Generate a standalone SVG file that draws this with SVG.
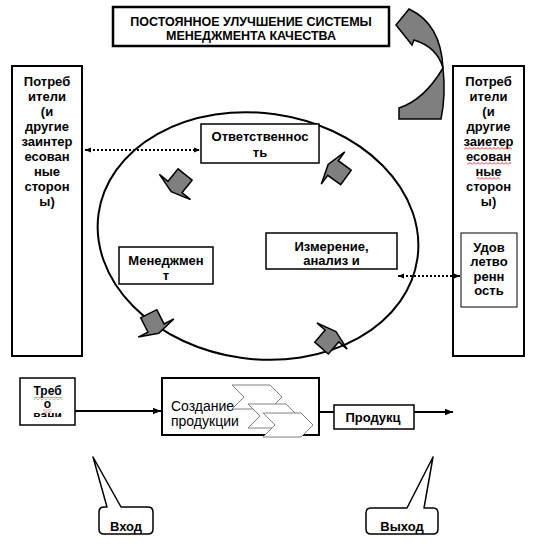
<svg xmlns="http://www.w3.org/2000/svg" width="538" height="549" viewBox="0 0 538 549">
<style>
.bx{fill:#fff;stroke:#000;stroke-width:2}
.bt{fill:#fff;stroke:#000;stroke-width:1.5}
.t{font-family:"Liberation Sans",Arial,sans-serif;font-size:13px;font-weight:bold;fill:#000;text-anchor:middle}
.tr{font-family:"Liberation Sans",Arial,sans-serif;font-size:14px;fill:#000}
.ga{fill:#7f7f7f;stroke:#000;stroke-width:1.5;stroke-linejoin:miter}
.dot{stroke:#000;stroke-width:2;stroke-dasharray:2 2;fill:none}
.sol{stroke:#000;stroke-width:2;fill:none}
.chev{fill:#fff;stroke:#808080;stroke-width:1}
.sq{fill:url(#wavy);stroke:none}
</style>
<defs>
<marker id="ah" viewBox="0 0 10 10" refX="10" refY="5" markerUnits="userSpaceOnUse" markerWidth="8" markerHeight="8" orient="auto-start-reverse">
<path d="M0,1 L10,5 L0,9 Z" fill="#000"/>
</marker>
<marker id="ahs" viewBox="0 0 10 10" refX="10" refY="5" markerUnits="userSpaceOnUse" markerWidth="6" markerHeight="6" orient="auto-start-reverse">
<path d="M0,1 L10,5 L0,9 Z" fill="#000"/>
</marker>
<path id="arr" d="M-16,-9 L0,-9 L0,-20 L6,0 L0,20 L0,9 L-16,9 Z"/>
<path id="chev" d="M0,0 L38,0 L50,12 L38,24 L0,24 L12,12 Z"/>
<pattern id="wavy" x="0" y="0" width="4" height="3" patternUnits="userSpaceOnUse">
<path d="M0,2.5 L2,0.5 L4,2.5" fill="none" stroke="#e00000" stroke-width="0.8"/>
</pattern>
<clipPath id="clipT"><rect x="20" y="378" width="55" height="39"/></clipPath>
</defs>

<g id="cycle">
<ellipse cx="258" cy="236" rx="161" ry="123" transform="rotate(8 258 236)" fill="none" stroke="#000" stroke-width="2"/>
<use href="#arr" class="ga" transform="translate(175,187) rotate(129)"/>
<use href="#arr" class="ga" transform="translate(333,168) rotate(216)"/>
<use href="#arr" class="ga" transform="translate(156,328) rotate(63)"/>
<use href="#arr" class="ga" transform="translate(332,336) rotate(-49)"/>
</g>

<g id="improvement-arrow">
<path class="ga" d="M443,68 Q446,95 441,119 L399,119 L399,108 Q424,100 443,68 Z"/>
<path class="ga" d="M409,9 L396,25 L412,45 L414,40 Q437,47 443,68 Q441,24 409,9 Z"/>
</g>

<g id="node-title">
<rect x="113" y="7" width="276" height="39" fill="#fff" stroke="#000" stroke-width="2.5"/>
<text class="t" x="251" y="26" style="font-size:12.5px">ПОСТОЯННОЕ УЛУЧШЕНИЕ СИСТЕМЫ</text>
<text class="t" x="251" y="40" style="font-size:12.5px">МЕНЕДЖМЕНТА КАЧЕСТВА</text>
</g>

<g id="node-customers-left">
<rect class="bx" x="12" y="66" width="70" height="290"/>
<text class="t" x="47" y="85.5">Потреб</text>
<text class="t" x="47" y="100.5">ители</text>
<text class="t" x="47" y="115.5">(и</text>
<text class="t" x="47" y="130.5">другие</text>
<text class="t" x="47" y="145.5">заинтер</text>
<text class="t" x="47" y="160.5">есован</text>
<text class="t" x="47" y="175.5">ные</text>
<text class="t" x="47" y="190.5">сторон</text>
<text class="t" x="47" y="205.5">ы)</text>
</g>

<g id="node-customers-right">
<rect class="bx" x="453" y="66" width="71" height="290"/>
<text class="t" x="488.5" y="85.5">Потреб</text>
<text class="t" x="488.5" y="100.5">ители</text>
<text class="t" x="488.5" y="115.5">(и</text>
<text class="t" x="488.5" y="130.5">другие</text>
<text class="t" x="488.5" y="145.5">заиетер</text>
<text class="t" x="488.5" y="160.5">есован</text>
<text class="t" x="488.5" y="175.5">ные</text>
<text class="t" x="488.5" y="190.5">сторон</text>
<text class="t" x="488.5" y="205.5">ы)</text>
<rect class="sq" x="464" y="147" width="48" height="3"/>
<rect class="sq" x="467" y="162" width="44" height="3"/>
<rect class="sq" x="477" y="177" width="23" height="3"/>
</g>

<g id="node-satisfaction">
<rect x="461" y="233" width="56" height="74" fill="#fff" stroke="#000" stroke-width="1"/>
<text class="t" x="489" y="251.5">Удов</text>
<text class="t" x="489" y="266">летво</text>
<text class="t" x="489" y="280.5">ренн</text>
<text class="t" x="489" y="295">ость</text>
</g>

<g id="node-responsibility">
<rect class="bt" x="201" y="124" width="118" height="39"/>
<text class="t" x="260" y="140.5">Ответственнос</text>
<text class="t" x="260" y="156.5">ть</text>
</g>

<g id="node-management">
<rect class="bt" x="119" y="247" width="94" height="37"/>
<text class="t" x="166" y="264.5">Менеджмен</text>
<text class="t" x="166" y="280">т</text>
</g>

<g id="node-measurement">
<rect class="bt" x="266" y="233" width="131" height="36"/>
<text class="t" x="331.5" y="251">Измерение,</text>
<text class="t" x="331.5" y="265">анализ и</text>
</g>

<g id="node-requirements">
<rect class="bt" x="20" y="378" width="55" height="47"/>
<text class="t" x="47.5" y="395" style="font-size:12px">Треб</text>
<text class="t" x="47.5" y="407.5" style="font-size:12px">о</text>
<text class="t" x="47.5" y="420" style="font-size:12px" clip-path="url(#clipT)">вани</text>
<rect class="sq" x="34" y="397" width="28" height="3"/>
<rect class="sq" x="43" y="409.5" width="9" height="3"/>
</g>

<g id="node-production">
<rect class="bx" x="162" y="378" width="157" height="57"/>
<use href="#chev" class="chev" x="232" y="385"/>
<use href="#chev" class="chev" x="248" y="404"/>
<use href="#chev" class="chev" x="263" y="413"/>
<text class="tr" x="171" y="411">Создание</text>
<text class="tr" x="171" y="426">продукции</text>
</g>

<g id="node-product">
<rect class="bt" x="334" y="405" width="80" height="24"/>
<text class="t" x="373" y="421.5">Продукц</text>
</g>

<g id="node-input">
<path d="M104,507 L107,507 L93,457 L121,507 L148,507 Q153,507 153,512 L153,529 Q153,534 148,534 L104,534 Q99,534 99,529 L99,512 Q99,507 104,507 Z" fill="#fff" stroke="#000" stroke-width="1.5" stroke-linejoin="round"/>
<text class="t" x="126" y="530.5">Вход</text>
</g>

<g id="node-output">
<path d="M371,508 L407,508 L433,457 L424,508 L433,508 Q438,508 438,513 L438,529 Q438,534 433,534 L371,534 Q366,534 366,529 L366,513 Q366,508 371,508 Z" fill="#fff" stroke="#000" stroke-width="1.5" stroke-linejoin="round"/>
<text class="t" x="402" y="530.5">Выход</text>
</g>

<g id="connectors">
<line class="dot" x1="85" y1="150" x2="200" y2="150" marker-start="url(#ahs)" marker-end="url(#ahs)"/>
<line class="dot" x1="398" y1="276" x2="460" y2="276" marker-start="url(#ahs)" marker-end="url(#ahs)"/>
<line class="sol" x1="75" y1="411" x2="161" y2="411" marker-end="url(#ah)"/>
<line class="sol" x1="319" y1="412" x2="334" y2="412"/>
<line class="sol" x1="414" y1="412" x2="453" y2="412" marker-end="url(#ah)"/>
</g>
</svg>
